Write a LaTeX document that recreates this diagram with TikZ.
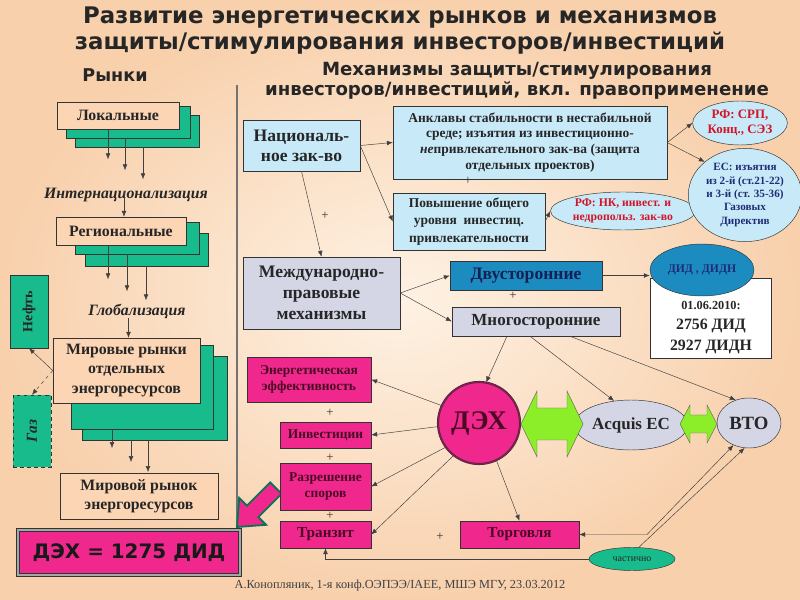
\documentclass[tikz,border=0pt]{standalone}
\usepackage{fontspec}
\usepackage{graphicx}
\setmainfont{Liberation Serif}
\setsansfont{DejaVu Sans}
\usetikzlibrary{arrows.meta,shapes.geometric,positioning,calc}

\definecolor{peach}{RGB}{252,213,180}
\definecolor{seagreen}{RGB}{24,188,140}
\definecolor{paleblue}{RGB}{200,234,248}
\definecolor{lavender}{RGB}{212,214,230}
\definecolor{deepblue}{RGB}{28,140,192}
\definecolor{hotpink}{RGB}{240,40,142}
\definecolor{limegreen}{RGB}{140,238,40}
\definecolor{ruby}{RGB}{210,20,40}
\definecolor{navyink}{RGB}{30,45,120}
\definecolor{maroonink}{RGB}{75,10,35}
\definecolor{bgpeach}{RGB}{248,208,172}
\definecolor{bglight}{RGB}{254,242,228}

\newcommand{\fsz}[2]{\fontsize{#1}{#2}\selectfont}

\tikzset{
  sz/.style 2 args={minimum width=#1*0.03cm, minimum height=#2*0.03cm, inner sep=1pt},
  market/.style={draw=black!80, fill=peach, font=\bfseries\fsz{13.5}{16}, align=center, text=black!85},
  layer/.style={draw=black!80, fill=seagreen},
  national/.style={draw=black!80, fill=paleblue, font=\bfseries, align=center, text=black!85},
  intl/.style={draw=black!80, fill=lavender, font=\bfseries, align=center, text=black!85},
  ect/.style={draw=black!80, fill=hotpink, font=\bfseries\fsz{11.5}{14}, align=center, text=maroonink},
  oval/.style={ellipse, draw=black!80, inner sep=0pt, font=\bfseries, align=center},
  link/.style={-{Latex[length=5pt,width=4pt]}, draw=black!75},
  both/.style={{Latex[length=5pt,width=4pt]}-{Latex[length=5pt,width=4pt]}, draw=black!75},
  plus/.style={font=\fsz{11}{12}, text=black!80},
  stage/.style={font=\bfseries\itshape\fsz{13.5}{15}, text=black!85}
}

\begin{document}
\begin{tikzpicture}[x=0.03cm, y=-0.03cm]
\useasboundingbox (0,0) rectangle (800,600);
\shade[inner color=bglight, outer color=bgpeach] (0,0) rectangle (800,600);

% headings
\node (title) at (400,30.5) [font=\sffamily\bfseries\fsz{19.5}{22}, align=center, text=black!85]
  {Развитие энергетических рынков и механизмов\\защиты/стимулирования инвесторов/инвестиций};
\node (mkts) at (115,75) [font=\sffamily\bfseries\fsz{15}{17}, text=black!85] {Рынки};
\node (mech) at (517,81) [font=\sffamily\bfseries\fsz{15.5}{17}, align=center, text=black!85]
  {Механизмы защиты/стимулирования\\инвесторов/инвестиций, вкл. правоприменение};
\draw[black!55, line width=1pt] (237,85) -- (237,527);

% markets column
\draw[layer] (75,115) rectangle (199,147);
\draw[layer] (66,106) rectangle (190,138);
\node (lok) at (118,115.5) [market, sz={122}{27}] {Локальные};
\draw[link] ($(lok.south)+(-10,0)$) -- ++(0,30);
\draw[link] ($(lok.south)+(7,9)$) -- ++(0,32);
\draw[link] ($(lok.south)+(25,18)$) -- ++(0,32);
\node (intz) at (126,195) [stage] {Интернационализация};

\draw[layer] (85,233) rectangle (208,266);
\draw[layer] (75,222) rectangle (199,254);
\node (reg) at (121,231) [market, sz={130}{28}] {Региональные};
\draw[link] ($(reg.north)+(3,-26)$) -- ($(reg.north)+(3,0)$);
\draw[link] ($(reg.south)+(-13,0)$) -- ++(0,34);
\draw[link] ($(reg.south)+(6,9)$) -- ++(0,37);
\draw[link] ($(reg.south)+(25,21)$) -- ++(0,34);
\node (glob) at (137,311) [stage] {Глобализация};

\draw[layer] (82,356) rectangle (227,440);
\draw[layer] (71,345) rectangle (213,429);
\node (world) at (126.5,370.5) [market, sz={147}{65}, font=\bfseries\fsz{13.5}{17}] {Мировые рынки\\отдельных\\энергоресурсов};
\draw[link] ($(world.north)+(2,-20)$) -- ($(world.north)+(2,0)$);
\draw[link] (112,429) -- (112,448);
\draw[link] (131,440) -- (131,462);
\draw[link] (148,440) -- (148,472);
\node (globmkt) at (139,496) [market, sz={158}{46}] {Мировой рынок\\энергоресурсов};

\node (oil) at (29,311.5) [layer, sz={38}{73}, font=\bfseries\fsz{12}{13}, text=black!85] {\rotatebox{90}{Нефть}};
\node (gas) at (32,431) [layer, dashed, sz={38}{72}, font=\bfseries\itshape\fsz{13}{14}, text=black!85] {\rotatebox{90}{Газ}};
\draw[link] (world.west) -- (oil.south);
\draw[link, dashed] (world.west) -- (gas.north);

\node (total) at (129,552.5) [sz={222}{45}, draw=black!80, double=black!35, double distance=1.5pt, line width=1pt, fill=hotpink,
  font=\sffamily\bfseries\fsz{17}{19}, text=black!90] {ДЭХ = 1275 ДИД};
\draw[draw=seagreen!60!black, line width=1.6pt, fill=hotpink, line join=miter]
  (237,527) -- (266.0,524.8) -- (258.3,517.1) -- (281.6,493.8) -- (270.2,482.4) -- (246.9,505.7) -- (239.2,498.0) -- cycle;

% national law
\node (nat) at (301.5,145.5) [national, sz={117}{51}, font=\bfseries\fsz{15}{17}] {Националь-\\ное зак-во};
\node (encl) at (530,142.5) [national, sz={274}{73}, font=\bfseries\fsz{11.5}{13.5}]
  {Анклавы стабильности в нестабильной\\среде; изъятия из инвестиционно-\\\textit{не}привлекательного зак-ва (защита\\отдельных проектов)};
\node (raise) at (469,221.5) [national, sz={152}{57}, font=\bfseries\fsz{11.5}{15}]
  {Повышение общего\\уровня\ \ инвестиц.\\привлекательности};
\node (p1) at (468,181) [plus] {+};
\node (p2) at (325,216) [plus] {+};
\draw[link] (nat.east) -- (encl.west);
\draw[link] (nat.east) -- (raise.west);

\node (nk) at (623,211) [oval, fill=paleblue, sz={120}{38}, text=ruby, font=\bfseries\fsz{10}{12}] {РФ: НК, инвест. и\\недропольз. зак-во};
\node (srp) at (740,123) [oval, fill=paleblue, sz={90}{44}, text=ruby, font=\bfseries\fsz{11}{13}] {РФ: СРП,\\Конц., СЭЗ};
\node (eu) at (745,195) [oval, fill=paleblue, sz={100}{90}, text=navyink, font=\bfseries\fsz{9.5}{11.5}]
  {ЕС: изъятия\\из 2-й (ст.21-22)\\и 3-й (ст. 35-36)\\Газовых\\Директив};
\draw[link] (raise.east) -- (nk.west);
\draw[link] (encl.east) -- (srp.west);
\draw[link] (encl.east) -- (eu.north west);

% international law
\node (intl) at (321.5,293) [intl, sz={157}{72}, font=\bfseries\fsz{15}{18}] {Международно-\\правовые\\механизмы};
\draw[link] (nat.south) -- (intl.north);
\node (bi) at (526,275.5) [draw=black!80, fill=deepblue, sz={152}{29}, font=\bfseries\fsz{15}{16}, text=navyink!70!black] {Двусторонние};
\node (multi) at (536,321.5) [intl, sz={168}{29}, font=\bfseries\fsz{14.5}{16}] {Многосторонние};
\node (p3) at (513,296) [plus] {+};
\draw[link] (intl.east) -- (bi.west);
\draw[link] (intl.east) -- (multi.west);

\node (count) at (710.5,318) [draw=black!80, fill=white, sz={121}{80}] {};
\node (did) at (702,270) [oval, fill=deepblue, sz={104}{52}, text=navyink, font=\bfseries\fsz{10}{12}] {ДИД , ДИДН};
\node (countnum) at (711,328) [align=center, font=\bfseries\fsz{13.5}{16}, text=black!85]
  {\fsz{10.5}{13}01.06.2010:\\[1pt]2756 ДИД\\[2pt]2927 ДИДН};
\draw[link] (bi.east) -- (bi.east -| did.west);

% energy charter treaty
\node (ect) at (479,423) [circle, draw=black!80, double=hotpink!60!black, double distance=1pt, fill=hotpink,
  minimum size=82*0.03cm, inner sep=0pt, font=\bfseries\fsz{23}{25}, text=maroonink] {ДЭХ};
\node (acq) at (631,425) [oval, fill=lavender, sz={97}{50}, font=\bfseries\fsz{14.5}{16}, text=black!85] {Acquis EC};
\node (wto) at (749,423) [oval, fill=lavender, sz={64}{50}, font=\bfseries\fsz{16}{18}, text=black!85] {ВТО};
\fill[limegreen, draw=black!60] (521,424) -- (537,391) -- (537,408) -- (567,408) -- (567,391) -- (583,424)
  -- (567,457) -- (567,440) -- (537,440) -- (537,457) -- cycle;
\fill[limegreen, draw=black!60] (680,424) -- (690,405) -- (690,415) -- (707,415) -- (707,405) -- (717,424)
  -- (707,443) -- (707,433) -- (690,433) -- (690,443) -- cycle;
\draw[link] ($(multi.south)+(-29,0)$) -- (ect.80);
\draw[link] ($(multi.south)+(-6,0)$) -- (acq.125);
\draw[link] ($(multi.south)+(34,0)$) -- (wto.120);

\node (energy) at (309,379.5) [ect, sz={124}{45}] {Энергетическая\\эффективность};
\node (invest) at (325.5,435) [ect, sz={91}{26}] {Инвестиции};
\node (disp) at (325.5,486.5) [ect, sz={91}{47}] {Разрешение\\споров};
\node (transit) at (325.5,534.5) [ect, sz={91}{27}, font=\bfseries\fsz{13}{14}] {Транзит};
\node (trade) at (519.5,534.5) [ect, sz={119}{27}, font=\bfseries\fsz{13}{14}] {Торговля};
\node (p4) at (330,413) [plus] {+};
\node (p5) at (330,458) [plus] {+};
\node (p6) at (330,516) [plus] {+};
\node (p7) at (440,537) [plus] {+};
\draw[link] (ect.155) -- (energy.east);
\draw[link] (ect.185) -- (invest.east);
\draw[link] (ect.216) -- (disp.east);
\draw[link] (ect.232) -- (transit.east);
\draw[link] (ect.295) -- (trade.north);

\node (partly) at (632,559) [oval, fill=seagreen, sz={86}{23}, font=\mdseries\fsz{8.5}{9}, text=black!85] {частично};
\coordinate (bend) at (647,534.5);
\draw[both] (trade.east) -- (bend) -- (wto.235);
\draw[link] (partly.west) -| (transit.south);
\draw[link] (partly.60) -- (wto.260);

\node (foot) at (400,586) [font=\fsz{10.5}{12}, text=black!75] {А.Конопляник, 1-я конф.ОЭПЭЭ/IAEE, МШЭ МГУ, 23.03.2012};
\end{tikzpicture}
\end{document}
